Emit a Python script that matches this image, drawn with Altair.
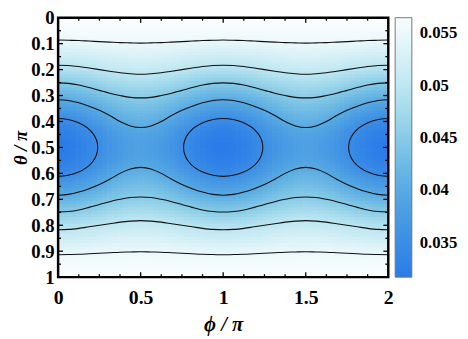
import altair as alt
import pandas as pd

# ---- values, in units of 1e-4 ----
# one symmetric quadrant: rows theta/pi = 0 .. 0.5 (step 0.0125), columns phi/pi = 0 .. 0.5 (step 0.03125)
theta_half = [i * 0.0125 for i in range(41)]
phi_half = [j * 0.03125 for j in range(17)]
z_e4 = [
    [565.0] * 17,
    [564.8] * 17,
    [564.0] * 17,
    [562.3, 562.3, 562.3, 562.3, 562.4, 562.4, 562.4, 562.5, 562.5, 562.5, 562.6, 562.6, 562.6, 562.7, 562.7, 562.7, 562.7],
    [560.0, 560.0, 560.0, 560.1, 560.1, 560.2, 560.3, 560.4, 560.5, 560.6, 560.7, 560.8, 560.9, 560.9, 561.0, 561.0, 561.0],
    [557.3, 557.3, 557.4, 557.4, 557.5, 557.6, 557.7, 557.9, 558.0, 558.1, 558.3, 558.4, 558.5, 558.6, 558.6, 558.7, 558.7],
    [554.0, 554.0, 554.1, 554.2, 554.3, 554.4, 554.6, 554.8, 555.0, 555.2, 555.4, 555.6, 555.7, 555.8, 555.9, 556.0, 556.0],
    [549.0, 549.0, 549.1, 549.3, 549.5, 549.8, 550.1, 550.5, 550.8, 551.2, 551.5, 551.8, 552.1, 552.3, 552.5, 552.6, 552.6],
    [543.0, 543.1, 543.2, 543.5, 543.9, 544.3, 544.9, 545.4, 546.0, 546.6, 547.1, 547.7, 548.1, 548.5, 548.8, 548.9, 549.0],
    [536.6, 536.7, 536.9, 537.3, 537.8, 538.4, 539.1, 539.9, 540.7, 541.4, 542.2, 542.9, 543.5, 544.0, 544.4, 544.6, 544.7],
    [530.0, 530.1, 530.4, 530.8, 531.5, 532.2, 533.1, 534.0, 535.0, 536.0, 536.9, 537.8, 538.5, 539.2, 539.6, 539.9, 540.0],
    [523.0, 523.1, 523.5, 524.0, 524.8, 525.7, 526.7, 527.9, 529.1, 530.2, 531.4, 532.4, 533.3, 534.1, 534.6, 535.0, 535.1],
    [516.0, 516.1, 516.5, 517.2, 518.1, 519.1, 520.3, 521.6, 523.0, 524.4, 525.7, 526.9, 528.0, 528.8, 529.5, 529.9, 530.0],
    [509.6, 509.7, 510.2, 510.9, 511.8, 512.9, 514.2, 515.6, 517.1, 518.6, 520.0, 521.3, 522.4, 523.3, 524.0, 524.5, 524.6],
    [503.0, 503.2, 503.6, 504.3, 505.3, 506.6, 507.9, 509.4, 511.0, 512.6, 514.1, 515.4, 516.7, 517.7, 518.4, 518.8, 519.0],
    [495.6, 495.8, 496.3, 497.1, 498.2, 499.6, 501.1, 502.8, 504.6, 506.3, 508.0, 509.5, 510.9, 512.0, 512.8, 513.3, 513.5],
    [488.0, 488.2, 488.8, 489.7, 490.9, 492.4, 494.2, 496.1, 498.0, 500.0, 501.8, 503.6, 505.1, 506.3, 507.2, 507.8, 508.0],
    [479.2, 479.4, 480.1, 481.2, 482.6, 484.4, 486.4, 488.6, 490.9, 493.2, 495.4, 497.4, 499.2, 500.6, 501.7, 502.4, 502.6],
    [470.0, 470.3, 471.0, 472.3, 474.0, 476.0, 478.3, 480.9, 483.5, 486.1, 488.7, 491.0, 493.0, 494.7, 496.0, 496.7, 497.0],
    [460.6, 460.9, 461.7, 463.1, 464.9, 467.2, 469.7, 472.5, 475.4, 478.2, 481.0, 483.6, 485.8, 487.6, 489.0, 489.8, 490.1],
    [451.0, 451.3, 452.2, 453.7, 455.7, 458.1, 460.9, 463.9, 467.0, 470.1, 473.1, 475.9, 478.3, 480.3, 481.8, 482.7, 483.0],
    [441.5, 441.8, 442.8, 444.4, 446.6, 449.2, 452.2, 455.4, 458.8, 462.1, 465.4, 468.3, 471.0, 473.1, 474.7, 475.7, 476.0],
    [432.0, 432.4, 433.4, 435.1, 437.4, 440.2, 443.4, 446.9, 450.5, 454.1, 457.6, 460.8, 463.6, 465.9, 467.6, 468.6, 469.0],
    [422.5, 422.9, 424.0, 425.8, 428.3, 431.3, 434.7, 438.4, 442.3, 446.1, 449.8, 453.2, 456.2, 458.7, 460.5, 461.6, 462.0],
    [413.0, 413.4, 414.6, 416.5, 419.2, 422.3, 426.0, 429.9, 434.0, 438.1, 442.0, 445.7, 448.9, 451.5, 453.4, 454.6, 455.0],
    [403.5, 403.9, 405.2, 407.3, 410.2, 413.6, 417.5, 421.8, 426.3, 430.7, 435.0, 438.9, 442.3, 445.2, 447.3, 448.6, 449.0],
    [394.0, 394.5, 395.9, 398.1, 401.2, 404.9, 409.1, 413.7, 418.5, 423.3, 427.9, 432.1, 435.8, 438.9, 441.1, 442.5, 443.0],
    [385.0, 385.5, 387.0, 389.4, 392.7, 396.7, 401.2, 406.1, 411.3, 416.4, 421.3, 425.8, 429.8, 433.1, 435.5, 437.0, 437.5],
    [376.0, 376.5, 378.1, 380.7, 384.2, 388.4, 393.3, 398.5, 404.0, 409.5, 414.7, 419.6, 423.8, 427.3, 429.9, 431.5, 432.0],
    [367.8, 368.4, 370.0, 372.7, 376.4, 380.8, 385.9, 391.4, 397.2, 402.9, 408.4, 413.5, 417.9, 421.6, 424.3, 425.9, 426.5],
    [360.0, 360.6, 362.3, 365.1, 368.9, 373.6, 378.8, 384.6, 390.5, 396.5, 402.2, 407.5, 412.1, 415.9, 418.7, 420.4, 421.0],
    [351.8, 352.4, 354.2, 357.2, 361.1, 366.0, 371.5, 377.4, 383.7, 389.9, 395.8, 401.4, 406.2, 410.1, 413.1, 414.9, 415.5],
    [344.0, 344.6, 346.5, 349.6, 353.7, 358.7, 364.4, 370.6, 377.0, 383.4, 389.6, 395.3, 400.3, 404.4, 407.5, 409.4, 410.0],
    [338.0, 338.6, 340.6, 343.6, 347.8, 352.8, 358.6, 364.9, 371.4, 377.9, 384.2, 390.0, 395.0, 399.2, 402.3, 404.2, 404.8],
    [333.0, 333.6, 335.5, 338.6, 342.7, 347.7, 353.4, 359.6, 366.0, 372.4, 378.6, 384.3, 389.3, 393.4, 396.5, 398.4, 399.0],
    [328.2, 328.8, 330.7, 333.8, 337.9, 342.8, 348.5, 354.7, 361.2, 367.6, 373.8, 379.5, 384.5, 388.5, 391.6, 393.5, 394.1],
    [325.0, 325.6, 327.5, 330.5, 334.5, 339.4, 345.1, 351.2, 357.5, 363.8, 369.9, 375.6, 380.5, 384.5, 387.5, 389.4, 390.0],
    [321.7, 322.3, 324.2, 327.2, 331.3, 336.2, 341.9, 348.0, 354.4, 360.7, 366.8, 372.5, 377.4, 381.5, 384.5, 386.4, 387.0],
    [320.0, 320.6, 322.5, 325.5, 329.5, 334.4, 340.1, 346.2, 352.5, 358.8, 364.9, 370.6, 375.5, 379.5, 382.5, 384.4, 385.0],
    [318.4, 319.0, 320.9, 323.9, 327.9, 332.8, 338.5, 344.6, 350.9, 357.2, 363.3, 369.0, 373.9, 377.9, 380.9, 382.8, 383.4],
    [318.0, 318.6, 320.5, 323.5, 327.5, 332.4, 338.1, 344.2, 350.5, 356.8, 362.9, 368.6, 373.5, 377.5, 380.5, 382.4, 383.0],
]

# ---- contour lines (upper half, phi 0..0.5) ----
contour_phi_half = [0.0, 0.0625, 0.125, 0.1875, 0.25, 0.3125, 0.375, 0.4375, 0.5]
contour_top = {
    "0.055": [0.086, 0.087, 0.088, 0.090, 0.092, 0.094, 0.096, 0.097, 0.098],
    "0.05": [0.183, 0.184, 0.188, 0.194, 0.200, 0.206, 0.212, 0.216, 0.218],
    "0.045": [0.251, 0.253, 0.259, 0.269, 0.280, 0.291, 0.300, 0.307, 0.309],
    "0.04": [0.316, 0.319, 0.328, 0.341, 0.357, 0.377, 0.400, 0.417, 0.423],
}
ellipse_centers = [0.0, 1.0, 2.0]
ellipse_dphi = [0.24, 0.208, 0.12, 0.0, -0.12, -0.208, -0.24, -0.208, -0.12, 0.0, 0.12, 0.208]
ellipse_dtheta = [0.0, 0.056, 0.096, 0.1115, 0.096, 0.056, 0.0, -0.056, -0.096, -0.1115, -0.096, -0.056]

# ---- axes / colorbar ----
x_ticks = [0, 0.5, 1, 1.5, 2]
y_ticks = [0, 0.1, 0.2, 0.3, 0.4, 0.5, 0.6, 0.7, 0.8, 0.9, 1]
cbar_ticks = [0.035, 0.04, 0.045, 0.05, 0.055]
color_domain = [0.0317, 0.035, 0.040, 0.045, 0.050, 0.055, 0.0565]
color_range = ["#2a7be9", "#3b8de5", "#57aae2", "#87cbe7", "#bee7f1", "#ebf8fb", "#f8fdfe"]
x_minor = [0.125, 0.25, 0.375, 0.625, 0.75, 0.875, 1.125, 1.25, 1.375, 1.625, 1.75, 1.875]
x_major = [0.5, 1.0, 1.5]
y_minor = [0.05, 0.15, 0.25, 0.35, 0.45, 0.55, 0.65, 0.75, 0.85, 0.95]
y_major = [0.1, 0.2, 0.3, 0.4, 0.5, 0.6, 0.7, 0.8, 0.9]

W, H = 336, 264
FONT = "Liberation Serif, Times New Roman, serif"

# ---- build tables (full grid from the picture's mirror symmetry) ----
nT = len(theta_half) - 1
nP = len(phi_half) - 1
dth = theta_half[1] - theta_half[0]
dph = phi_half[1] - phi_half[0]
cells = []
for i in range(2 * nT + 1):
    qi = min(i, 2 * nT - i)
    th = theta_half[i] if i <= nT else 1.0 - theta_half[2 * nT - i]
    for j in range(4 * nP + 1):
        k = j % (2 * nP)
        qj = min(k, 2 * nP - k)
        ph = (j // (2 * nP)) * 1.0 + (phi_half[k] if k <= nP else 1.0 - phi_half[2 * nP - k])
        cells.append({
            "phi_lo": max(ph - dph / 2, 0.0), "phi_hi": min(ph + dph / 2 + 0.004, 2.0),
            "th_lo": max(th - dth / 2, 0.0), "th_hi": min(th + dth / 2 + 0.003, 1.0),
            "z": z_e4[qi][qj] * 1e-4,
        })
cells = pd.DataFrame(cells)

lines = []
n = len(contour_phi_half) - 1
for lev, th_list in contour_top.items():
    for j in range(4 * n + 1):
        k = j % (2 * n)
        q = min(k, 2 * n - k)
        ph = (j // (2 * n)) * 1.0 + (contour_phi_half[k] if k <= n else 1.0 - contour_phi_half[2 * n - k])
        lines.append({"id": "top" + lev, "phi": ph, "theta": th_list[q]})
        lines.append({"id": "bot" + lev, "phi": ph, "theta": 1.0 - th_list[q]})
lines = pd.DataFrame(lines)

ell = []
for c in ellipse_centers:
    for idx, (a, b) in enumerate(zip(ellipse_dphi, ellipse_dtheta)):
        ell.append({"id": f"e{c}", "idx": idx, "phi": c + a, "theta": 0.5 + b})
ell = pd.DataFrame(ell)

xscale = alt.Scale(domain=[0, 2], nice=False, zero=False)
yscale = alt.Scale(domain=[0, 1], nice=False, zero=False, reverse=True)
cscale = alt.Scale(domain=color_domain, range=color_range, interpolate="rgb")
xaxis = alt.Axis(values=x_ticks, format=".1~f", title="ϕ / π", ticks=False, domain=False,
                 grid=False, labelPadding=11, titlePadding=6, labelFlush=False,
                 labelFontSize=20, titleFontSize=21)
yaxis = alt.Axis(values=y_ticks, format=".1~f", title="θ / π", ticks=False, domain=False,
                 grid=False, labelPadding=4, titlePadding=0, labelFlush=False,
                 labelFontSize=19, titleFontSize=19)

heat = alt.Chart(cells).mark_rect(strokeWidth=0).encode(
    x=alt.X("phi_lo:Q", scale=xscale, axis=xaxis),
    x2="phi_hi:Q",
    y=alt.Y("th_lo:Q", scale=yscale, axis=yaxis),
    y2="th_hi:Q",
    color=alt.Color("z:Q", scale=cscale, legend=alt.Legend(
        type="gradient", direction="vertical",
        title=None, orient="right", offset=7, padding=0, gradientLength=H,
        gradientThickness=17, values=cbar_ticks, format=".3~f", labelOffset=8,
        labelFont=FONT, labelFontSize=17, labelFontWeight="bold", labelColor="black",
        gradientStrokeColor="#777", gradientStrokeWidth=1, labelOverlap=False)),
)

open_lines = alt.Chart(lines).mark_line(color="#111", strokeWidth=1.1, interpolate="monotone", clip=True).encode(
    x=alt.X("phi:Q", scale=xscale, axis=xaxis),
    y=alt.Y("theta:Q", scale=yscale, axis=yaxis),
    detail="id:N",
)
ellipses = alt.Chart(ell).mark_line(color="#111", strokeWidth=1.1, interpolate="cardinal-closed", clip=True).encode(
    x=alt.X("phi:Q", scale=xscale, axis=xaxis),
    y=alt.Y("theta:Q", scale=yscale, axis=yaxis),
    detail="id:N",
    order="idx:Q",
)

def yt(vals, x0, x1):
    return alt.Chart(pd.DataFrame({"t": vals})).mark_rule(color="black", strokeWidth=1.3).encode(
        y=alt.Y("t:Q", scale=yscale, axis=yaxis), x=alt.value(x0), x2=alt.value(x1))

def xt(vals, y0, y1):
    return alt.Chart(pd.DataFrame({"t": vals})).mark_rule(color="black", strokeWidth=1.3).encode(
        x=alt.X("t:Q", scale=xscale, axis=xaxis), y=alt.value(y0), y2=alt.value(y1))

ticks = [
    yt(y_major, 0, 5), yt(y_minor, 0, 3), yt(y_major, W, W - 5), yt(y_minor, W, W - 3),
    xt(x_major, 0, 5), xt(x_minor, 0, 3), xt(x_major, H, H - 5), xt(x_minor, H, H - 3),
]

frame = alt.Chart(pd.DataFrame({"a": [0]})).mark_rect(filled=False, stroke="black", strokeWidth=2.5).encode(
    x=alt.value(0), x2=alt.value(W), y=alt.value(0), y2=alt.value(H))

chart = alt.layer(heat, open_lines, ellipses, *ticks, frame).properties(
    width=W, height=H,
    autosize=alt.AutoSizeParams(type="none"),
    padding={"left": 51, "top": 7, "right": 73, "bottom": 57},
).configure_view(stroke=None).configure_axis(
    labelFont=FONT, labelFontWeight="bold", labelColor="black",
    titleFont=FONT, titleFontWeight="bold", titleFontStyle="italic", titleColor="black",
)

chart.save("out.html", embed_options={"renderer": "svg", "actions": False})
